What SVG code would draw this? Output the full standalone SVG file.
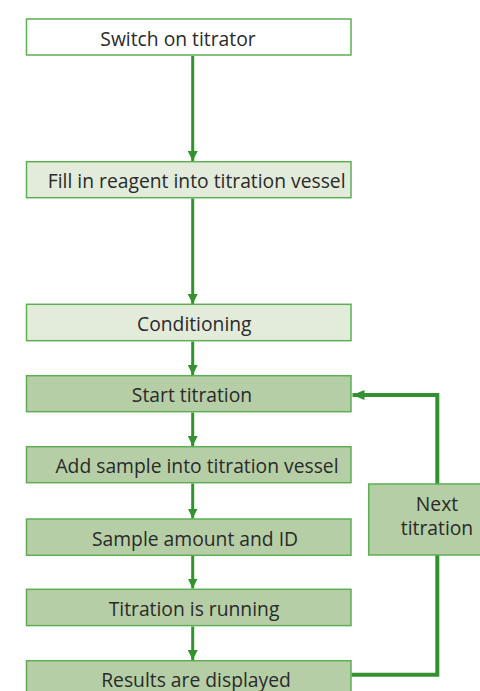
<svg xmlns="http://www.w3.org/2000/svg" width="480" height="691" viewBox="0 0 480 691">
<style>
.box{stroke:#5fae55;stroke-width:1.5}
.w{fill:#ffffff}
.l{fill:#e3ecdb}
.d{fill:#b5cea5}
.t{font-family:"Open Sans","Noto Sans",sans-serif;font-size:19.3px;fill:#2a2a2a;text-anchor:middle}
.c{fill:none;stroke:#33922f;stroke-width:3}
.lp{fill:none;stroke:#33922f;stroke-width:4}
</style>
<defs>
<marker id="ah" viewBox="0 0 10 10" refX="10" refY="5" markerWidth="10" markerHeight="10" markerUnits="userSpaceOnUse" orient="auto">
<path d="M0,0 L10,5 L0,10 Z" fill="#33922f"/>
</marker>
<marker id="ah2" viewBox="0 0 12 10" refX="12" refY="5" markerWidth="12" markerHeight="10" markerUnits="userSpaceOnUse" orient="auto">
<path d="M0,0 L12,5 L0,10 Z" fill="#33922f"/>
</marker>
</defs>
<g id="connectors">
<line class="c" x1="192.7" y1="56" x2="192.7" y2="161" marker-end="url(#ah)"/>
<line class="c" x1="192.7" y1="198.5" x2="192.7" y2="304" marker-end="url(#ah)"/>
<line class="c" x1="192.7" y1="341.5" x2="192.7" y2="375" marker-end="url(#ah)"/>
<line class="c" x1="192.7" y1="412.5" x2="192.7" y2="446" marker-end="url(#ah)"/>
<line class="c" x1="192.7" y1="483.5" x2="192.7" y2="518.5" marker-end="url(#ah)"/>
<line class="c" x1="192.7" y1="556" x2="192.7" y2="588.5" marker-end="url(#ah)"/>
<line class="c" x1="192.7" y1="626.5" x2="192.7" y2="660" marker-end="url(#ah)"/>
<polyline class="lp" points="437.3,484 437.3,395 352.5,395" marker-end="url(#ah2)"/>
<polyline class="lp" points="437.3,555 437.3,674.7 351.5,674.7"/>
</g>
<g id="n1"><rect class="box w" x="26.5" y="19" width="324.5" height="36"/><text class="t" x="178" y="46">Switch on titrator</text></g>
<g id="n2"><rect class="box l" x="26.5" y="161.7" width="324.5" height="36"/><text class="t" x="196.7" y="187.7">Fill in reagent into titration vessel</text></g>
<g id="n3"><rect class="box l" x="26.5" y="304.3" width="324.5" height="36.4"/><text class="t" x="194.3" y="331">Conditioning</text></g>
<g id="n4"><rect class="box d" x="26.5" y="375.7" width="324.5" height="36"/><text class="t" x="192" y="402">Start titration</text></g>
<g id="n5"><rect class="box d" x="26.5" y="446.7" width="324.5" height="36"/><text class="t" x="197" y="473">Add sample into titration vessel</text></g>
<g id="n6"><rect class="box d" x="26.5" y="519" width="324.5" height="36.3"/><text class="t" x="195" y="546">Sample amount and ID</text></g>
<g id="n7"><rect class="box d" x="26.5" y="589.3" width="324.5" height="36.3"/><text class="t" x="194" y="616">Titration is running</text></g>
<g id="n8"><rect class="box d" x="26.5" y="660.7" width="324.5" height="36"/><text class="t" x="196" y="686.5">Results are displayed</text></g>
<g id="n9"><rect class="box d" x="368.7" y="484" width="137" height="71"/><text class="t" x="437" y="510.5">Next</text><text class="t" x="437" y="534.5">titration</text></g>
</svg>
